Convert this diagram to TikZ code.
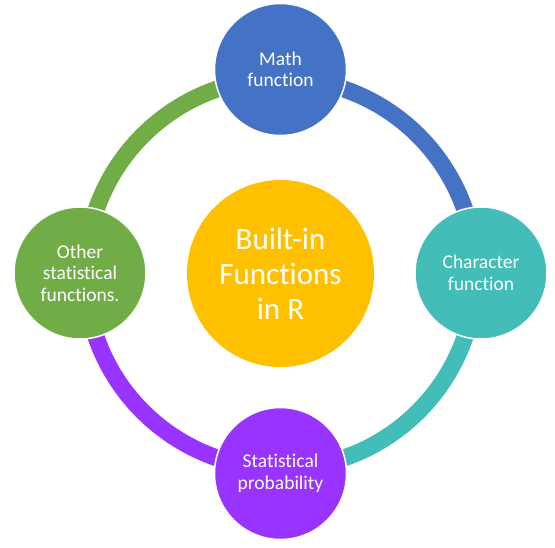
\documentclass[tikz,border=0pt]{standalone}
\usepackage{fontspec}
\setmainfont{Carlito}[Ligatures=NoCommon]
\definecolor{cblue}{HTML}{4472C4}
\definecolor{cteal}{HTML}{43BDB7}
\definecolor{cpurple}{HTML}{9933FF}
\definecolor{cgreen}{HTML}{70AD47}
\definecolor{cyellow}{HTML}{FFC000}
\begin{document}
\begin{tikzpicture}[x=1pt,y=1pt,
  band/.style={line width=17pt},
  sat/.style={circle, draw=white, line width=1.5pt, minimum size=132pt, inner sep=0pt,
    align=center, text=white, font=\fontsize{19.5}{21.5}\selectfont},
  hub/.style={circle, fill=cyellow, minimum size=187pt, inner sep=0pt,
    align=center, text=white, font=\fontsize{31}{35}\selectfont}]
\useasboundingbox (0,0) rectangle (555,-547);
\coordinate (c) at (280.5,-273.5);
% ring
\draw[band, cblue]   ([shift={(90:195)}]c) arc[start angle=90, end angle=0, radius=195];
\draw[band, cteal]   ([shift={(0:195)}]c) arc[start angle=0, end angle=-90, radius=195];
\draw[band, cpurple] ([shift={(-90:195)}]c) arc[start angle=-90, end angle=-180, radius=195];
\draw[band, cgreen]  ([shift={(180:195)}]c) arc[start angle=180, end angle=90, radius=195];
% nodes
\node[hub] (hub) at (c) {Built-in\\Functions\\in R};
\node[sat, fill=cblue]   (top)    at (280.5,-69.5)  {Math\\function};
\node[sat, fill=cteal]   (right)  at (481,-273)     {Character\\function};
\node[sat, fill=cpurple] (bottom) at (280.5,-473.5) {Statistical\\probability};
\node[sat, fill=cgreen]  (left)   at (80,-273)      {Other\\statistical\\functions.};
\end{tikzpicture}
\end{document}
